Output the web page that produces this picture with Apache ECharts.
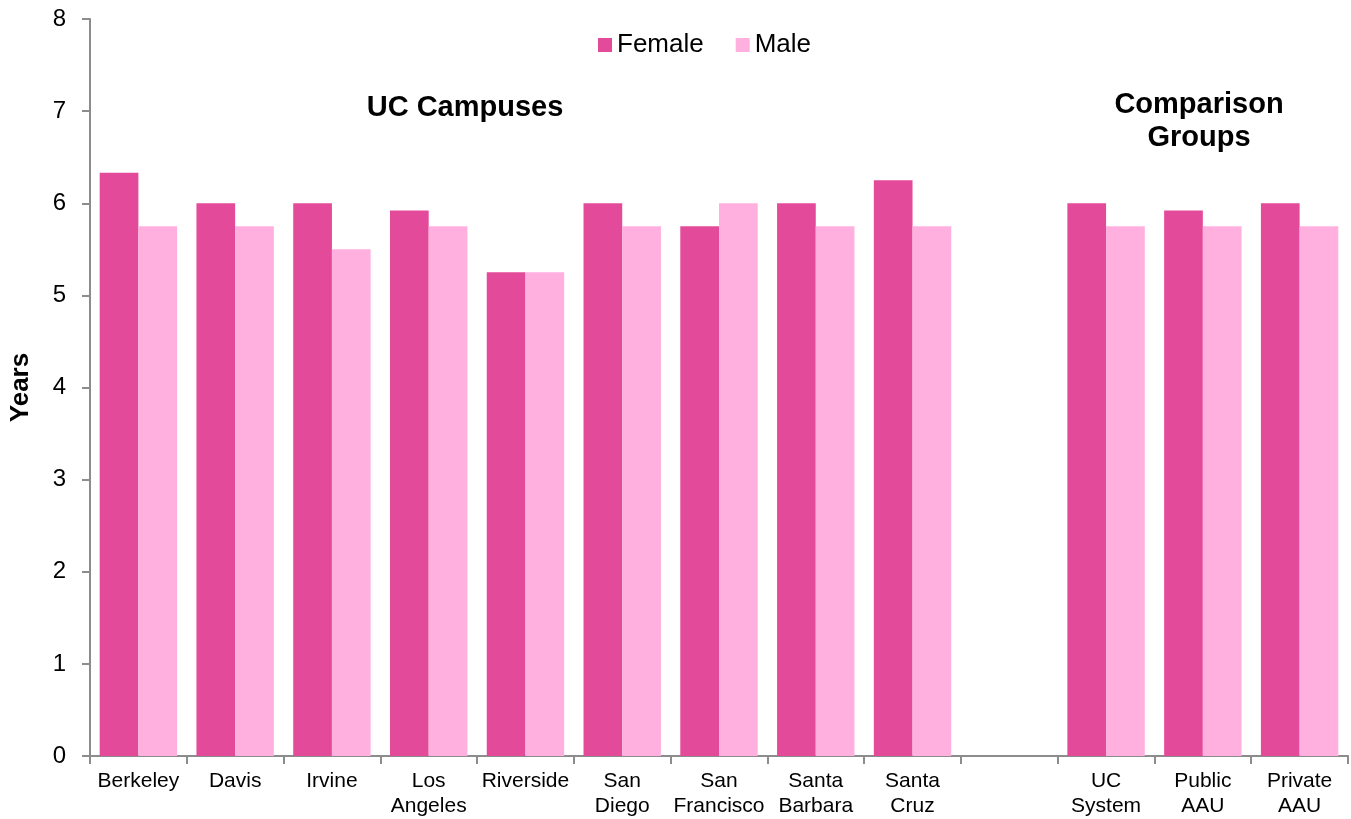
<!DOCTYPE html>
<html>
<head>
<meta charset="utf-8">
<script src="https://cdn.jsdelivr.net/npm/echarts@6/dist/echarts.min.js"></script>
<style>
html, body { margin: 0; padding: 0; background: #fff; }
#chart { width: 1351px; height: 819px; }
</style>
</head>
<body>
<div id="chart"></div>
<script>
// 数据
var categories = ['Berkeley', 'Davis', 'Irvine', 'Los\nAngeles', 'Riverside', 'San\nDiego', 'San\nFrancisco',
    'Santa\nBarbara', 'Santa\nCruz', '', 'UC\nSystem', 'Public\nAAU', 'Private\nAAU'];
var female = [6.33, 6.0, 6.0, 5.92, 5.25, 6.0, 5.75, 6.0, 6.25, '-', 6.0, 5.92, 6.0];
var male = [5.75, 5.75, 5.5, 5.75, 5.25, 5.75, 6.0, 5.75, 5.75, '-', 5.75, 5.75, 5.75];
var yTicks = [0, 1, 2, 3, 4, 5, 6, 7, 8];

var font = 'Liberation Sans, Arial, sans-serif';
var myChart = echarts.init(document.getElementById('chart'));

var option = {
    animation: false,
    textStyle: { fontFamily: font },
    legend: {
        data: ['Female', 'Male'],
        top: 27,
        left: 593,
        itemWidth: 14,
        itemHeight: 14,
        itemGap: 32,
        icon: 'rect',
        textStyle: { fontSize: 26, color: '#000', fontFamily: font }
    },
    grid: { left: 90, right: 3, top: 19, bottom: 62, containLabel: false },
    xAxis: {
        type: 'category',
        data: categories,
        axisLine: { lineStyle: { color: '#8c8c8c', width: 2 } },
        axisTick: { show: true, alignWithLabel: false, length: 8, lineStyle: { color: '#8c8c8c', width: 2 } },
        axisLabel: { fontSize: 21, color: '#000', lineHeight: 25, margin: 13, interval: 0, fontFamily: font }
    },
    yAxis: {
        type: 'value',
        min: yTicks[0],
        max: yTicks[yTicks.length - 1],
        interval: 1,
        name: 'Years',
        nameLocation: 'middle',
        nameGap: 56,
        nameRotate: 90,
        nameTextStyle: { fontSize: 26, fontWeight: 'bold', color: '#000', fontFamily: font },
        axisLine: { show: true, lineStyle: { color: '#8c8c8c', width: 2 } },
        axisTick: { show: true, length: 8, lineStyle: { color: '#8c8c8c', width: 2 } },
        axisLabel: { fontSize: 24, color: '#000', margin: 24, fontFamily: font },
        splitLine: { show: false }
    },
    graphic: [
        {
            type: 'text', x: 465, y: 108,
            style: { text: 'UC Campuses', align: 'center', verticalAlign: 'middle', font: 'bold 29px ' + font, fill: '#000' }
        },
        {
            type: 'text', x: 1199, y: 121,
            style: { text: 'Comparison\nGroups', align: 'center', verticalAlign: 'middle', lineHeight: 33, font: 'bold 29px ' + font, fill: '#000' }
        }
    ],
    series: [
        {
            name: 'Female',
            type: 'bar',
            data: female,
            barGap: '0%',
            barCategoryGap: '20%',
            itemStyle: { color: '#E44A9A' }
        },
        {
            name: 'Male',
            type: 'bar',
            data: male,
            itemStyle: { color: '#FFB0DF' }
        }
    ]
};

myChart.setOption(option);
</script>
</body>
</html>
